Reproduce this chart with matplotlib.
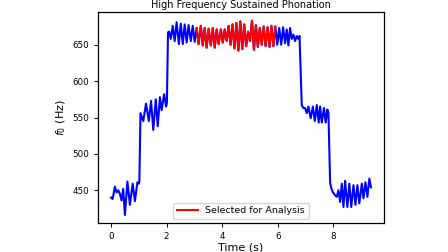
import matplotlib
matplotlib.use("Agg")
import matplotlib.pyplot as plt
import numpy as np

# time (s) and f0 (Hz)
time_s = [
    0.00, 0.06, 0.14, 0.20, 0.26, 0.32, 0.38, 0.44, 0.50, 0.59, 0.68, 0.78, 0.86, 0.95, 1.00, 1.02,
    1.06, 1.16, 1.26, 1.36, 1.44, 1.52, 1.61, 1.68, 1.76, 1.82, 1.91, 1.98, 2.01,
    2.05, 2.09, 2.15, 2.22, 2.29, 2.36, 2.44, 2.51, 2.58, 2.65, 2.72, 2.79, 2.87, 2.94, 3.01,
    3.08, 3.15, 3.23, 3.30, 3.37, 3.44, 3.51, 3.59, 3.66, 3.73, 3.80, 3.87, 3.95, 4.02, 4.09,
    4.16, 4.23, 4.30, 4.37, 4.44, 4.51, 4.58, 4.65, 4.72, 4.79, 4.86, 4.93, 5.00, 5.07, 5.14,
    5.21, 5.28, 5.35, 5.42, 5.49, 5.56, 5.63, 5.70, 5.77, 5.84, 5.91, 5.98, 6.05, 6.12, 6.19,
    6.26, 6.32, 6.38, 6.44, 6.50, 6.56, 6.62, 6.68, 6.74, 6.78,
    6.86, 6.92, 6.98, 7.04, 7.10, 7.18, 7.26, 7.33, 7.40, 7.47, 7.52, 7.58, 7.66, 7.72, 7.78, 7.82,
    7.88, 7.93, 7.97, 8.06, 8.12, 8.18, 8.24, 8.30, 8.36, 8.42, 8.50, 8.57, 8.64, 8.72, 8.79,
    8.86, 8.93, 9.02, 9.08, 9.15, 9.22, 9.29, 9.35,
]
f0_hz = [
    440, 438, 455, 447, 450, 445, 436, 452, 416, 462, 430, 459, 435, 461, 459, 462,
    556, 545, 569, 545, 573, 533, 575, 538, 578, 560, 582, 565, 570,
    667, 668, 658, 676, 655, 681, 651, 679, 651, 678, 653, 677, 655, 676, 654,
    673, 651, 676, 649, 673, 646, 672, 649, 673, 646, 671, 651, 671, 653, 671,
    655, 676, 650, 678, 645, 680, 642, 682, 644, 678, 648, 668, 655, 683, 643,
    677, 647, 673, 650, 675, 648, 674, 647, 676, 648, 675, 650, 673, 650, 674,
    652, 671, 649, 673, 658, 664, 655, 662, 658, 662,
    567, 563, 563, 556, 565, 549, 565, 545, 567, 543, 565, 543, 563, 543, 561, 556,
    460, 452, 448, 443, 441, 450, 434, 459, 427, 463, 427, 459, 427, 457, 430,
    457, 432, 459, 439, 461, 441, 466, 454,
]
sel_start = 3.08
sel_end = 5.91

t = np.array(time_s)
f = np.array(f0_hz)

fig = plt.figure(figsize=(4.48, 2.52), dpi=100)
ax = fig.add_axes([98/448, 1-223/252, (384-98)/448, (223-12)/252])
ax.plot(t, f, color="blue", lw=1.5)
m = (t >= sel_start) & (t <= sel_end)
ax.plot(t[m], f[m], color="red", lw=1.5, label="Selected for Analysis")

ax.set_xticks([0, 2, 4, 6, 8])
ax.set_yticks([450, 500, 550, 600, 650])
ax.set_ylim(405, 695)
ax.tick_params(labelsize=6.3, length=3, width=0.7)
for s in ax.spines.values():
    s.set_linewidth(0.9)
ax.set_title("High Frequency Sustained Phonation", fontsize=7, pad=3)
ax.set_xlabel("Time (s)", fontsize=8, labelpad=1)
ax.set_ylabel(r"$f_0$ (Hz)", fontsize=8, labelpad=3)
ax.legend(loc="lower center", fontsize=6.8, handlelength=2.2, borderaxespad=0.4)
fig.savefig("out.png", dpi=100)
